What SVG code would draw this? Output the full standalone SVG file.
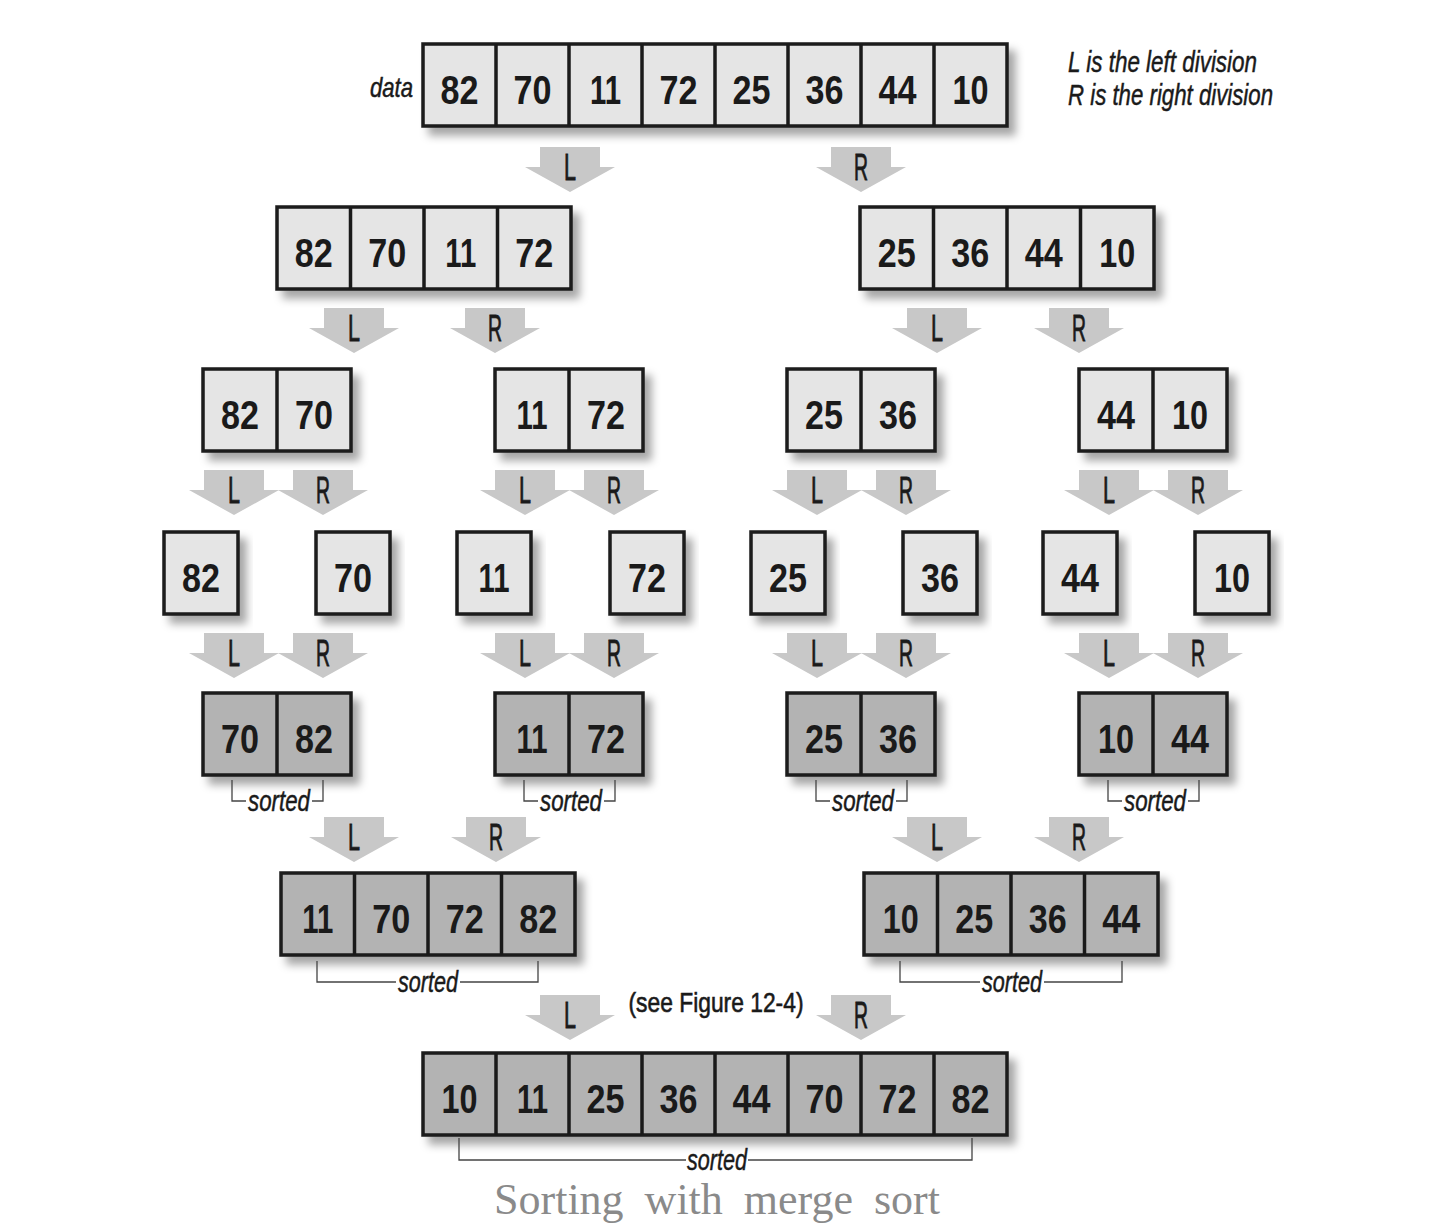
<svg xmlns="http://www.w3.org/2000/svg" xmlns:xlink="http://www.w3.org/1999/xlink" width="1450" height="1228" viewBox="0 0 1450 1228">
<style>
.box{stroke:#1a1a1a;stroke-width:3.5;filter:url(#sh)}
.light{fill:#e5e5e5}
.dark{fill:#b3b3b3}
.div{stroke:#1a1a1a;stroke-width:3.5;fill:none}
.num{font-family:"Liberation Sans",Arial,sans-serif;font-weight:bold;font-size:40px;fill:#1a1a1a;text-anchor:middle}
.lbl{font-family:"Liberation Sans",Arial,sans-serif;font-size:37px;fill:#1a1a1a;stroke:#1a1a1a;stroke-width:0.9;text-anchor:middle}
.see{font-family:"Liberation Sans",Arial,sans-serif;font-size:28px;fill:#1a1a1a;stroke:#1a1a1a;stroke-width:0.6;text-anchor:middle}
.it{font-family:"Liberation Sans",Arial,sans-serif;font-style:italic;fill:#1a1a1a;stroke:#1a1a1a;stroke-width:0.5}
.srt{font-size:30px;text-anchor:middle}
.brk{stroke:#444;stroke-width:1.3;fill:none}
.arr{fill:#c8c8c8}
.cap{font-family:"Liberation Serif","Times New Roman",serif;font-size:44px;fill:#8a8a8a;text-anchor:middle;word-spacing:10px}
</style>
<defs>
<filter id="sh" x="-10%" y="-20%" width="130%" height="160%">
<feDropShadow dx="7" dy="8" stdDeviation="4" flood-color="#000" flood-opacity="0.35"/>
</filter>
<path id="arrow" class="arr" d="M-30,0 H30 V20 H45 L0,45 L-45,20 H-30 Z"/>
</defs>
<rect width="1450" height="1228" fill="#fff"/>

<g id="legend">
<text class="it" x="1068" y="72" font-size="30" textLength="189" lengthAdjust="spacingAndGlyphs">L is the left division</text>
<text class="it" x="1068" y="105" font-size="30" textLength="205" lengthAdjust="spacingAndGlyphs">R is the right division</text>
</g>

<!-- Row 1 -->
<g id="n-data">
<text class="it" x="413" y="97" font-size="28" text-anchor="end" textLength="43" lengthAdjust="spacingAndGlyphs">data</text>
<rect class="box light" x="423" y="44" width="584" height="82"/>
<path class="div" d="M496,44V126M569,44V126M642,44V126M715,44V126M788,44V126M861,44V126M934,44V126"/>
<text class="num" x="459.5" y="104" textLength="38" lengthAdjust="spacingAndGlyphs">82</text>
<text class="num" x="532.5" y="104" textLength="38" lengthAdjust="spacingAndGlyphs">70</text>
<text class="num" x="605.5" y="104" textLength="31" lengthAdjust="spacingAndGlyphs">11</text>
<text class="num" x="678.5" y="104" textLength="38" lengthAdjust="spacingAndGlyphs">72</text>
<text class="num" x="751.5" y="104" textLength="38" lengthAdjust="spacingAndGlyphs">25</text>
<text class="num" x="824.5" y="104" textLength="38" lengthAdjust="spacingAndGlyphs">36</text>
<text class="num" x="897.5" y="104" textLength="38" lengthAdjust="spacingAndGlyphs">44</text>
<text class="num" x="970.5" y="104" textLength="36" lengthAdjust="spacingAndGlyphs">10</text>
</g>

<!-- Row 2 -->
<g id="n-l">
<rect class="box light" x="277" y="207" width="294" height="82"/>
<path class="div" d="M350.5,207V289M424,207V289M497.5,207V289"/>
<text class="num" x="313.75" y="267" textLength="38" lengthAdjust="spacingAndGlyphs">82</text>
<text class="num" x="387.25" y="267" textLength="38" lengthAdjust="spacingAndGlyphs">70</text>
<text class="num" x="460.75" y="267" textLength="31" lengthAdjust="spacingAndGlyphs">11</text>
<text class="num" x="534.25" y="267" textLength="38" lengthAdjust="spacingAndGlyphs">72</text>
</g>
<g id="n-r">
<rect class="box light" x="860" y="207" width="294" height="82"/>
<path class="div" d="M933.5,207V289M1007,207V289M1080.5,207V289"/>
<text class="num" x="896.75" y="267" textLength="38" lengthAdjust="spacingAndGlyphs">25</text>
<text class="num" x="970.25" y="267" textLength="38" lengthAdjust="spacingAndGlyphs">36</text>
<text class="num" x="1043.75" y="267" textLength="38" lengthAdjust="spacingAndGlyphs">44</text>
<text class="num" x="1117.25" y="267" textLength="36" lengthAdjust="spacingAndGlyphs">10</text>
</g>

<!-- Row 3 -->
<g id="n-ll">
<rect class="box light" x="203" y="369" width="148" height="82"/>
<path class="div" d="M277,369V451"/>
<text class="num" x="240" y="429" textLength="38" lengthAdjust="spacingAndGlyphs">82</text>
<text class="num" x="314" y="429" textLength="38" lengthAdjust="spacingAndGlyphs">70</text>
</g>
<g id="n-lr">
<rect class="box light" x="495" y="369" width="148" height="82"/>
<path class="div" d="M569,369V451"/>
<text class="num" x="532" y="429" textLength="31" lengthAdjust="spacingAndGlyphs">11</text>
<text class="num" x="606" y="429" textLength="38" lengthAdjust="spacingAndGlyphs">72</text>
</g>
<g id="n-rl">
<rect class="box light" x="787" y="369" width="148" height="82"/>
<path class="div" d="M861,369V451"/>
<text class="num" x="824" y="429" textLength="38" lengthAdjust="spacingAndGlyphs">25</text>
<text class="num" x="898" y="429" textLength="38" lengthAdjust="spacingAndGlyphs">36</text>
</g>
<g id="n-rr">
<rect class="box light" x="1079" y="369" width="148" height="82"/>
<path class="div" d="M1153,369V451"/>
<text class="num" x="1116" y="429" textLength="38" lengthAdjust="spacingAndGlyphs">44</text>
<text class="num" x="1190" y="429" textLength="36" lengthAdjust="spacingAndGlyphs">10</text>
</g>

<!-- Row 4 -->
<g id="n-82"><rect class="box light" x="164" y="532" width="74" height="82"/><text class="num" x="201" y="592" textLength="38" lengthAdjust="spacingAndGlyphs">82</text></g>
<g id="n-70"><rect class="box light" x="316" y="532" width="74" height="82"/><text class="num" x="353" y="592" textLength="38" lengthAdjust="spacingAndGlyphs">70</text></g>
<g id="n-11"><rect class="box light" x="457" y="532" width="74" height="82"/><text class="num" x="494" y="592" textLength="31" lengthAdjust="spacingAndGlyphs">11</text></g>
<g id="n-72"><rect class="box light" x="610" y="532" width="74" height="82"/><text class="num" x="647" y="592" textLength="38" lengthAdjust="spacingAndGlyphs">72</text></g>
<g id="n-25"><rect class="box light" x="751" y="532" width="74" height="82"/><text class="num" x="788" y="592" textLength="38" lengthAdjust="spacingAndGlyphs">25</text></g>
<g id="n-36"><rect class="box light" x="903" y="532" width="74" height="82"/><text class="num" x="940" y="592" textLength="38" lengthAdjust="spacingAndGlyphs">36</text></g>
<g id="n-44"><rect class="box light" x="1043" y="532" width="74" height="82"/><text class="num" x="1080" y="592" textLength="38" lengthAdjust="spacingAndGlyphs">44</text></g>
<g id="n-10"><rect class="box light" x="1195" y="532" width="74" height="82"/><text class="num" x="1232" y="592" textLength="36" lengthAdjust="spacingAndGlyphs">10</text></g>

<!-- Row 5 -->
<g id="m-ll">
<rect class="box dark" x="203" y="693" width="148" height="82"/>
<path class="div" d="M277,693V775"/>
<text class="num" x="240" y="753" textLength="38" lengthAdjust="spacingAndGlyphs">70</text>
<text class="num" x="314" y="753" textLength="38" lengthAdjust="spacingAndGlyphs">82</text>
<path class="brk" d="M232,780V801H246M312,801H323V780"/>
<text class="it srt" x="279" y="811" textLength="62" lengthAdjust="spacingAndGlyphs">sorted</text>
</g>
<g id="m-lr">
<rect class="box dark" x="495" y="693" width="148" height="82"/>
<path class="div" d="M569,693V775"/>
<text class="num" x="532" y="753" textLength="31" lengthAdjust="spacingAndGlyphs">11</text>
<text class="num" x="606" y="753" textLength="38" lengthAdjust="spacingAndGlyphs">72</text>
<path class="brk" d="M524,780V801H538M604,801H615V780"/>
<text class="it srt" x="571" y="811" textLength="62" lengthAdjust="spacingAndGlyphs">sorted</text>
</g>
<g id="m-rl">
<rect class="box dark" x="787" y="693" width="148" height="82"/>
<path class="div" d="M861,693V775"/>
<text class="num" x="824" y="753" textLength="38" lengthAdjust="spacingAndGlyphs">25</text>
<text class="num" x="898" y="753" textLength="38" lengthAdjust="spacingAndGlyphs">36</text>
<path class="brk" d="M816,780V801H830M896,801H907V780"/>
<text class="it srt" x="863" y="811" textLength="62" lengthAdjust="spacingAndGlyphs">sorted</text>
</g>
<g id="m-rr">
<rect class="box dark" x="1079" y="693" width="148" height="82"/>
<path class="div" d="M1153,693V775"/>
<text class="num" x="1116" y="753" textLength="36" lengthAdjust="spacingAndGlyphs">10</text>
<text class="num" x="1190" y="753" textLength="38" lengthAdjust="spacingAndGlyphs">44</text>
<path class="brk" d="M1108,780V801H1122M1188,801H1199V780"/>
<text class="it srt" x="1155" y="811" textLength="62" lengthAdjust="spacingAndGlyphs">sorted</text>
</g>

<!-- Row 6 -->
<g id="m-l">
<rect class="box dark" x="281" y="873" width="294" height="82"/>
<path class="div" d="M354.5,873V955M428,873V955M501.5,873V955"/>
<text class="num" x="317.75" y="933" textLength="31" lengthAdjust="spacingAndGlyphs">11</text>
<text class="num" x="391.25" y="933" textLength="38" lengthAdjust="spacingAndGlyphs">70</text>
<text class="num" x="464.75" y="933" textLength="38" lengthAdjust="spacingAndGlyphs">72</text>
<text class="num" x="538.25" y="933" textLength="38" lengthAdjust="spacingAndGlyphs">82</text>
<path class="brk" d="M317,961V982H396M460,982H538V961"/>
<text class="it srt" x="428" y="992" textLength="60" lengthAdjust="spacingAndGlyphs">sorted</text>
</g>
<g id="m-r">
<rect class="box dark" x="864" y="873" width="294" height="82"/>
<path class="div" d="M937.5,873V955M1011,873V955M1084.5,873V955"/>
<text class="num" x="900.75" y="933" textLength="36" lengthAdjust="spacingAndGlyphs">10</text>
<text class="num" x="974.25" y="933" textLength="38" lengthAdjust="spacingAndGlyphs">25</text>
<text class="num" x="1047.75" y="933" textLength="38" lengthAdjust="spacingAndGlyphs">36</text>
<text class="num" x="1121.25" y="933" textLength="38" lengthAdjust="spacingAndGlyphs">44</text>
<path class="brk" d="M900,961V982H980M1044,982H1122V961"/>
<text class="it srt" x="1012" y="992" textLength="60" lengthAdjust="spacingAndGlyphs">sorted</text>
</g>

<!-- Row 7 -->
<g id="m-all">
<rect class="box dark" x="423" y="1053" width="584" height="82"/>
<path class="div" d="M496,1053V1135M569,1053V1135M642,1053V1135M715,1053V1135M788,1053V1135M861,1053V1135M934,1053V1135"/>
<text class="num" x="459.5" y="1113" textLength="36" lengthAdjust="spacingAndGlyphs">10</text>
<text class="num" x="532.5" y="1113" textLength="31" lengthAdjust="spacingAndGlyphs">11</text>
<text class="num" x="605.5" y="1113" textLength="38" lengthAdjust="spacingAndGlyphs">25</text>
<text class="num" x="678.5" y="1113" textLength="38" lengthAdjust="spacingAndGlyphs">36</text>
<text class="num" x="751.5" y="1113" textLength="38" lengthAdjust="spacingAndGlyphs">44</text>
<text class="num" x="824.5" y="1113" textLength="38" lengthAdjust="spacingAndGlyphs">70</text>
<text class="num" x="897.5" y="1113" textLength="38" lengthAdjust="spacingAndGlyphs">72</text>
<text class="num" x="970.5" y="1113" textLength="38" lengthAdjust="spacingAndGlyphs">82</text>
<path class="brk" d="M459,1138V1160H686M748,1160H972V1138"/>
<text class="it srt" x="717" y="1170" textLength="60" lengthAdjust="spacingAndGlyphs">sorted</text>
</g>

<!-- Connectors -->
<g id="connectors">
<use href="#arrow" x="570" y="147"/><text class="lbl" x="570" y="180" textLength="12" lengthAdjust="spacingAndGlyphs">L</text>
<use href="#arrow" x="861" y="147"/><text class="lbl" x="861" y="180" textLength="14" lengthAdjust="spacingAndGlyphs">R</text>

<use href="#arrow" x="354" y="308"/><text class="lbl" x="354" y="341" textLength="12" lengthAdjust="spacingAndGlyphs">L</text>
<use href="#arrow" x="495" y="308"/><text class="lbl" x="495" y="341" textLength="14" lengthAdjust="spacingAndGlyphs">R</text>
<use href="#arrow" x="937" y="308"/><text class="lbl" x="937" y="341" textLength="12" lengthAdjust="spacingAndGlyphs">L</text>
<use href="#arrow" x="1079" y="308"/><text class="lbl" x="1079" y="341" textLength="14" lengthAdjust="spacingAndGlyphs">R</text>

<use href="#arrow" x="234" y="470"/><use href="#arrow" x="323" y="470"/>
<text class="lbl" x="234" y="503" textLength="12" lengthAdjust="spacingAndGlyphs">L</text><text class="lbl" x="323" y="503" textLength="14" lengthAdjust="spacingAndGlyphs">R</text>
<use href="#arrow" x="525" y="470"/><use href="#arrow" x="614" y="470"/>
<text class="lbl" x="525" y="503" textLength="12" lengthAdjust="spacingAndGlyphs">L</text><text class="lbl" x="614" y="503" textLength="14" lengthAdjust="spacingAndGlyphs">R</text>
<use href="#arrow" x="817" y="470"/><use href="#arrow" x="906" y="470"/>
<text class="lbl" x="817" y="503" textLength="12" lengthAdjust="spacingAndGlyphs">L</text><text class="lbl" x="906" y="503" textLength="14" lengthAdjust="spacingAndGlyphs">R</text>
<use href="#arrow" x="1109" y="470"/><use href="#arrow" x="1198" y="470"/>
<text class="lbl" x="1109" y="503" textLength="12" lengthAdjust="spacingAndGlyphs">L</text><text class="lbl" x="1198" y="503" textLength="14" lengthAdjust="spacingAndGlyphs">R</text>

<use href="#arrow" x="234" y="633"/><use href="#arrow" x="323" y="633"/>
<text class="lbl" x="234" y="666" textLength="12" lengthAdjust="spacingAndGlyphs">L</text><text class="lbl" x="323" y="666" textLength="14" lengthAdjust="spacingAndGlyphs">R</text>
<use href="#arrow" x="525" y="633"/><use href="#arrow" x="614" y="633"/>
<text class="lbl" x="525" y="666" textLength="12" lengthAdjust="spacingAndGlyphs">L</text><text class="lbl" x="614" y="666" textLength="14" lengthAdjust="spacingAndGlyphs">R</text>
<use href="#arrow" x="817" y="633"/><use href="#arrow" x="906" y="633"/>
<text class="lbl" x="817" y="666" textLength="12" lengthAdjust="spacingAndGlyphs">L</text><text class="lbl" x="906" y="666" textLength="14" lengthAdjust="spacingAndGlyphs">R</text>
<use href="#arrow" x="1109" y="633"/><use href="#arrow" x="1198" y="633"/>
<text class="lbl" x="1109" y="666" textLength="12" lengthAdjust="spacingAndGlyphs">L</text><text class="lbl" x="1198" y="666" textLength="14" lengthAdjust="spacingAndGlyphs">R</text>

<use href="#arrow" x="354" y="817"/><text class="lbl" x="354" y="850" textLength="12" lengthAdjust="spacingAndGlyphs">L</text>
<use href="#arrow" x="496" y="817"/><text class="lbl" x="496" y="850" textLength="14" lengthAdjust="spacingAndGlyphs">R</text>
<use href="#arrow" x="937" y="817"/><text class="lbl" x="937" y="850" textLength="12" lengthAdjust="spacingAndGlyphs">L</text>
<use href="#arrow" x="1079" y="817"/><text class="lbl" x="1079" y="850" textLength="14" lengthAdjust="spacingAndGlyphs">R</text>

<use href="#arrow" x="570" y="995"/><text class="lbl" x="570" y="1028" textLength="12" lengthAdjust="spacingAndGlyphs">L</text>
<use href="#arrow" x="861" y="995"/><text class="lbl" x="861" y="1028" textLength="14" lengthAdjust="spacingAndGlyphs">R</text>
<text class="see" transform="translate(716,1012) scale(0.815,1)">(see Figure 12-4)</text>
</g>

<text class="cap" x="717" y="1214">Sorting with merge sort</text>
</svg>
